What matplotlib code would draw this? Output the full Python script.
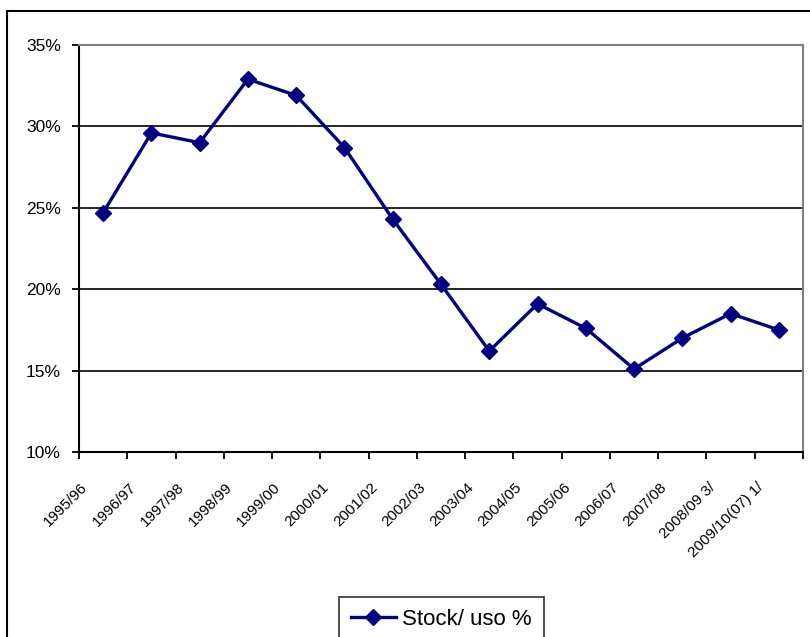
import matplotlib
matplotlib.use("Agg")
import matplotlib.pyplot as plt
from matplotlib import font_manager
from matplotlib.patches import Rectangle
from matplotlib.ticker import FuncFormatter, FixedLocator

categories = ["1995/96", "1996/97", "1997/98", "1998/99", "1999/00", "2000/01",
              "2001/02", "2002/03", "2003/04", "2004/05", "2005/06", "2006/07",
              "2007/08", "2008/09 3/", "2009/10(07) 1/"]
stock_uso = [24.7, 29.6, 29.0, 32.9, 31.9, 28.7, 24.3, 20.3, 16.2, 19.1,
             17.6, 15.1, 17.0, 18.5, 17.5]
y_ticks = [10, 15, 20, 25, 30, 35]
series_name = "Stock/ uso %"

names = {f.name for f in font_manager.fontManager.ttflist}
base = "Liberation Sans" if "Liberation Sans" in names else "DejaVu Sans"
narrow = "Liberation Sans Narrow" if "Liberation Sans Narrow" in names else base
plt.rcParams['font.family'] = [base, 'DejaVu Sans']

W, H = 810, 637
fig = plt.figure(figsize=(W / 100, H / 100), dpi=100)
ax = fig.add_axes([79 / W, 1 - 452 / H, (803 - 79) / W, (452 - 45) / H])

# outer chart border
fig.patches.append(Rectangle((7 / W, -0.1), 1.2, (H - 11) / H + 0.1,
                             transform=fig.transFigure, fill=False,
                             edgecolor='black', linewidth=1.5, clip_on=False))

x = list(range(len(categories)))
ax.plot(x, stock_uso, color='#000080', linewidth=2.4, marker='D',
        markersize=8, markerfacecolor='#000080', markeredgecolor='#000080',
        label=series_name, zorder=3)

ax.set_xlim(-0.5, len(categories) - 0.5)
ax.set_ylim(10, 35)
ax.set_yticks(y_ticks)
ax.yaxis.set_major_formatter(FuncFormatter(lambda v, p: f"{v:.0f}%"))
for v in y_ticks[1:-1]:
    ax.axhline(v, color='black', linewidth=1.2, zorder=1)

# labels anchored near the left boundary of each category (Excel style)
ax.set_xticks([i - 0.47 for i in x])
ax.set_xticklabels(categories, rotation=45, ha='right', va='top',
                   rotation_mode='anchor',
                   family=[narrow, 'DejaVu Sans'], fontsize=11)
ax.tick_params(axis='x', which='major', length=0, pad=20)
ax.xaxis.set_minor_locator(FixedLocator([i - 0.5 for i in range(len(categories) + 1)]))
ax.tick_params(axis='x', which='minor', length=5, width=1.3, direction='out')
ax.tick_params(axis='y', length=5, width=1.3, direction='out', labelsize=12.5, pad=8)

ax.spines['left'].set_color('black')
ax.spines['left'].set_linewidth(1.5)
ax.spines['bottom'].set_color('black')
ax.spines['bottom'].set_linewidth(1.5)
ax.spines['top'].set_color('#808080')
ax.spines['top'].set_linewidth(1.5)
ax.spines['right'].set_color('#808080')
ax.spines['right'].set_linewidth(1.5)

leg = fig.legend(loc='upper left', bbox_to_anchor=(339 / W, 1 - 597 / H),
                 fontsize=16, frameon=True, fancybox=False, shadow=False,
                 handlelength=2.0, handletextpad=0.3, borderpad=0.55,
                 borderaxespad=0)
leg.get_frame().set_edgecolor('black')
leg.get_frame().set_linewidth(1.2)

fig.savefig("out.png", dpi=100)
